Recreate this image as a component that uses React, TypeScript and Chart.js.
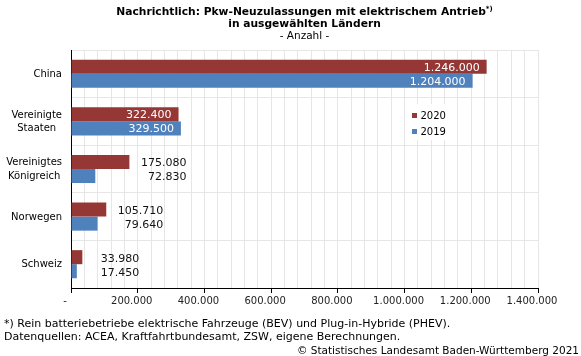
import React, { useEffect, useRef } from 'react';
import { Chart, registerables } from 'chart.js';

Chart.register(...registerables);

// ---- Data ----
const categories: string[][] = [
  ['China'],
  ['Vereinigte', 'Staaten'],
  ['Vereinigtes', 'Königreich'],
  ['Norwegen'],
  ['Schweiz'],
];
const seriesNames = ['2020', '2019'];
const values2020 = [1246000, 322400, 175080, 105710, 33980];
const values2019 = [1204000, 329500, 72830, 79640, 17450];
const xMin = 0;
const xMax = 1400000;
const gridStep = 40000;
const labelStep = 200000;
const titleLine1 = 'Nachrichtlich: Pkw-Neuzulassungen mit elektrischem Antrieb';
const titleSup = '*)';
const titleLine2 = 'in ausgewählten Ländern';
const subtitle = '- Anzahl -';
const footnote1 = '*) Rein batteriebetriebe elektrische Fahrzeuge (BEV) und Plug-in-Hybride (PHEV).';
const footnote2 = 'Datenquellen: ACEA, Kraftfahrtbundesamt, ZSW, eigene Berechnungen.';
const copyright = '© Statistisches Landesamt Baden-Württemberg 2021';

// ---- Style ----
const RED = '#953735';
const BLUE = '#4F81BD';
const GRID = '#e6e6e6';
const FONT = '"DejaVu Sans", Verdana, sans-serif';
const INSIDE_MIN = 300000;

const fmt = (n: number) => String(Math.round(n)).replace(/\B(?=(\d{3})+(?!\d))/g, '.');

const overlayPlugin = {
  id: 'overlay',
  afterDatasetsDraw(chart: any) {
    const ctx = chart.ctx as CanvasRenderingContext2D;
    const area = chart.chartArea;
    const yScale = chart.scales.y;
    ctx.save();

    // Category labels (multi-line centred block, right-aligned to axis)
    ctx.font = `10px ${FONT}`;
    ctx.fillStyle = '#000';
    ctx.textBaseline = 'middle';
    ctx.textAlign = 'center';
    categories.forEach((lines, i) => {
      const cy = yScale.getPixelForValue(i);
      const w = Math.max(...lines.map((l) => ctx.measureText(l).width));
      const cx = area.left - 9 - w / 2;
      const lh = 13.5;
      lines.forEach((l, j) => {
        ctx.fillText(l, cx, cy + (j - (lines.length - 1) / 2) * lh + 0.5);
      });
    });

    // Legend box
    const lx = area.left + 341;
    const ly = area.top + 54;
    ctx.fillStyle = '#fff';
    ctx.fillRect(lx - 5, ly, 46, 36);
    const entries = [
      { name: seriesNames[0], color: RED, y: ly + 12 },
      { name: seriesNames[1], color: BLUE, y: ly + 28 },
    ];
    ctx.textAlign = 'left';
    entries.forEach((e) => {
      ctx.fillStyle = e.color;
      ctx.fillRect(lx, e.y - 3, 5, 5);
      ctx.fillStyle = '#000';
      ctx.fillText(e.name, lx + 8.5, e.y);
    });

    // Data labels
    const m0 = chart.getDatasetMeta(0);
    const m1 = chart.getDatasetMeta(1);
    ctx.font = `11px ${FONT}`;
    categories.forEach((_, i) => {
      const b0 = m0.data[i];
      const b1 = m1.data[i];
      const pairs = [
        { bar: b0, v: values2020[i] },
        { bar: b1, v: values2019[i] },
      ];
      const outsideRight = Math.max(b0.x, b1.x) + 57;
      pairs.forEach((p) => {
        const t = fmt(p.v);
        ctx.textAlign = 'right';
        if (p.v >= INSIDE_MIN) {
          ctx.fillStyle = '#fff';
          ctx.fillText(t, p.bar.x - 7, p.bar.y + 1);
        } else {
          ctx.fillStyle = '#111';
          ctx.fillText(t, outsideRight, p.bar.y + 1.5);
        }
      });
    });
    ctx.restore();
  },
};

export default function App() {
  const ref = useRef<HTMLCanvasElement | null>(null);

  useEffect(() => {
    if (!ref.current) return;
    const chart = new Chart(ref.current, {
      type: 'bar',
      data: {
        labels: categories.map((c) => c.join(' ')),
        datasets: [
          { label: seriesNames[0], data: values2020, backgroundColor: RED, borderWidth: 0 },
          { label: seriesNames[1], data: values2019, backgroundColor: BLUE, borderWidth: 0 },
        ],
      },
      options: {
        indexAxis: 'y',
        responsive: false,
        animation: false,
        devicePixelRatio: 1,
        layout: { padding: { top: 50, right: 43, left: 0, bottom: 0 } },
        datasets: { bar: { categoryPercentage: 0.59, barPercentage: 1 } },
        plugins: { legend: { display: false }, tooltip: { enabled: false }, title: { display: false } },
        scales: {
          x: {
            type: 'linear',
            min: xMin,
            max: xMax,
            afterFit: (s: any) => { s.height = 68; },
            border: { color: '#000', width: 1 },
            grid: {
              color: GRID,
              tickLength: 5,
              tickColor: (c: any) => (c.tick && c.tick.value % labelStep === 0 ? '#000' : 'rgba(0,0,0,0)'),
            },
            ticks: {
              stepSize: gridStep,
              autoSkip: false,
              maxRotation: 0,
              padding: 2,
              labelOffset: -6,
              color: '#222',
              font: { family: FONT, size: 10 },
              callback: (v: any) => {
                const n = Number(v);
                if (n % labelStep !== 0) return '';
                return n === 0 ? '-' : fmt(n);
              },
            },
          },
          y: {
            type: 'category',
            afterFit: (s: any) => { s.width = 71; },
            border: { color: '#000', width: 1 },
            grid: { color: GRID, drawTicks: false, offset: true },
            ticks: { display: false },
          },
        },
      },
      plugins: [overlayPlugin],
    } as any);
    return () => chart.destroy();
  }, []);

  const line = (top: number, extra: React.CSSProperties = {}) => ({
    position: 'absolute' as const,
    top,
    lineHeight: '13px',
    fontFamily: FONT,
    fontSize: 10,
    color: '#000',
    whiteSpace: 'nowrap' as const,
    ...extra,
  });

  return (
    <div style={{ position: 'absolute', left: 0, top: 0, width: 581, height: 356, background: '#fff', overflow: 'hidden' }}>
      <canvas ref={ref} width={581} height={356} style={{ position: 'absolute', left: 0, top: 0 }} />
      <div style={line(4.5, { left: 71, width: 467, textAlign: 'center', fontWeight: 'bold', fontSize: 10.7 })}>
        {titleLine1}
        <sup style={{ fontSize: 7, verticalAlign: 'top', position: 'relative', top: -2 }}>{titleSup}</sup>
      </div>
      <div style={line(16.5, { left: 71, width: 467, textAlign: 'center', fontWeight: 'bold', fontSize: 10.7 })}>{titleLine2}</div>
      <div style={line(28.5, { left: 71, width: 467, textAlign: 'center', fontSize: 10.5 })}>{subtitle}</div>
      <div style={line(316.5, { left: 4, fontSize: 11 })}>{footnote1}</div>
      <div style={line(330, { left: 4, fontSize: 11 })}>{footnote2}</div>
      <div style={line(343.5, { right: 2, textAlign: 'right', fontSize: 10.5 })}>{copyright}</div>
    </div>
  );
}
